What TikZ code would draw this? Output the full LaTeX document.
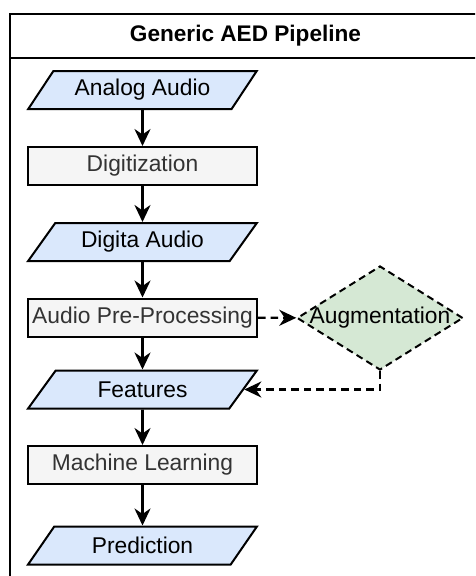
\documentclass[tikz,border=0pt]{standalone}
\usepackage{fontspec}
\setmainfont{Liberation Sans}
\usetikzlibrary{shapes.geometric,arrows.meta}
\definecolor{datablue}{HTML}{DAE8FC}
\definecolor{procgray}{HTML}{F5F5F5}
\definecolor{proctext}{HTML}{333333}
\definecolor{auggreen}{HTML}{D5E8D4}
\tikzset{
  every node/.style={font=\fontsize{22.8}{26}\selectfont},
  databox/.style={trapezium, trapezium left angle=48, trapezium right angle=132,
    trapezium stretches=true, minimum width=229pt, minimum height=38pt,
    inner sep=0pt, draw, line width=2pt, fill=datablue},
  procbox/.style={rectangle, minimum width=229pt, minimum height=38pt, inner sep=0pt,
    draw, line width=2pt, fill=procgray, text=proctext},
  augbox/.style={diamond, aspect=1.6, minimum width=166pt, minimum height=104pt,
    inner sep=0pt, draw, line width=2pt, fill=auggreen,
    dash pattern=on 7pt off 4.5pt},
  flow/.style={line width=2.6pt, -{Stealth[length=17pt,width=16pt,inset=5.5pt]}},
  optflow/.style={flow, line width=2.2pt, dash pattern=on 7.5pt off 5pt}
}
\begin{document}
\begin{tikzpicture}[x=1pt,y=-1pt]
  \useasboundingbox (0,0) rectangle (475,576);
  \clip (0,0) rectangle (475,576);
  % frame
  \draw[line width=2pt] (9.5,600) -- (9.5,14) -- (490,14);
  \draw[line width=2pt] (9.5,58) -- (490,58);
  \node[font=\fontsize{22.6}{26}\selectfont\bfseries] (title) at (245.5,36) {Generic AED Pipeline};

  % main chain
  \node[databox] (analog) at (142.5,90) {Analog Audio};
  \node[procbox] (digit) at (142.5,166) {Digitization};
  \node[databox] (digaudio) at (142.5,242) {Digita Audio};
  \node[procbox] (prep) at (142.5,317.5) {Audio Pre-Processing};
  \node[databox] (feat) at (142.5,389.5) {Features};
  \node[procbox] (ml) at (142.5,465) {Machine Learning};
  \node[databox] (pred) at (142.5,545.5) {Prediction};
  \node[augbox, label=center:{Augmentation}] (aug) at (380,318) {};

  \draw[flow] (analog) -- (digit);
  \draw[flow] (digit) -- (digaudio);
  \draw[flow] (digaudio) -- (prep);
  \draw[flow] (prep) -- (feat);
  \draw[flow] (feat) -- (ml);
  \draw[flow] (ml) -- (pred);

  % augmentation loop
  \draw[optflow] (prep) -- (aug);
  \draw[optflow] (aug.south) |- (feat.east);
\end{tikzpicture}
\end{document}
